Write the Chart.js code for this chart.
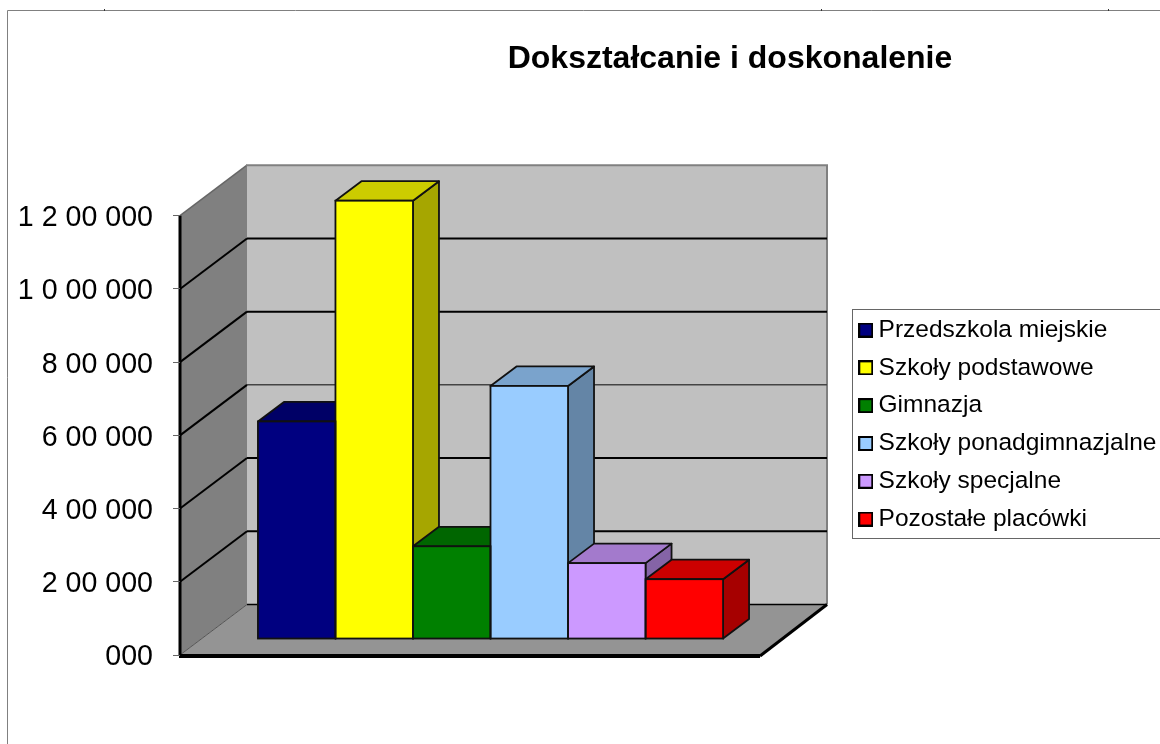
<!DOCTYPE html>
<html lang="pl">
<head>
    <meta charset="UTF-8">
    <title>Dokształcanie i doskonalenie</title>
    <script src="https://cdn.jsdelivr.net/npm/chart.js"></script>
    <style>
        body { margin: 0; background: white; }
        canvas { display: block; }
    </style>
</head>
<body>
<canvas id="wykres" width="1160" height="744"></canvas>

<script>
    const tytul = 'Dokształcanie i doskonalenie';
    const kategorie = ['2010'];
    const serie = ['Przedszkola miejskie', 'Szkoły podstawowe', 'Gimnazja', 'Szkoły ponadgimnazjalne', 'Szkoły specjalne', 'Pozostałe placówki'];
    const wartosci = [593000, 1196000, 252000, 690000, 206000, 162000];
    const wartosciOsi = [0, 200000, 400000, 600000, 800000, 1000000, 1200000];
    const etykietyOsi = ['000', '2 00 000', '4 00 000', '6 00 000', '8 00 000', '1 0 00 000', '1 2 00 000'];
    const kolory = ['#000080', '#ffff00', '#008000', '#99ccff', '#cc99ff', '#ff0000'];
    const koloryGora = ['#000066', '#cccc00', '#006600', '#7aa3cc', '#a37acc', '#cc0000'];
    const koloryBok = ['#000053', '#a6a600', '#005300', '#6485a6', '#8564a6', '#a60000'];

    // glebokosc ukladu 3D w pikselach
    const scianaDx = 67, scianaDy = 50.5;
    const slupekDx = 26, slupekDy = 19.5;
    const scianaPrawa = 827;

    function wielokat(ctx, punkty, wypelnienie, linia, grubosc) {
        ctx.beginPath();
        punkty.forEach((p, i) => i ? ctx.lineTo(p[0], p[1]) : ctx.moveTo(p[0], p[1]));
        ctx.closePath();
        if (wypelnienie) { ctx.fillStyle = wypelnienie; ctx.fill(); }
        if (linia) { ctx.strokeStyle = linia; ctx.lineWidth = grubosc; ctx.stroke(); }
    }

    function odcinek(ctx, x1, y1, x2, y2, kolor, grubosc) {
        ctx.beginPath();
        ctx.moveTo(x1, y1);
        ctx.lineTo(x2, y2);
        ctx.strokeStyle = kolor;
        ctx.lineWidth = grubosc;
        ctx.stroke();
    }

    // probki legendy, bo Chart.js daje zbyt duzy odstep przy zwyklym boxWidth
    function probka(kolor) {
        const c = document.createElement('canvas');
        c.width = 15; c.height = 15;
        const g = c.getContext('2d');
        g.fillStyle = '#000';
        g.fillRect(0, 0, 15, 15);
        g.fillStyle = kolor;
        g.fillRect(2, 2, 11, 11);
        return c;
    }

    const uklad3d = {
        id: 'uklad3d',
        afterLayout(chart) {
            // tytul i legenda nie leza tam, gdzie ustawilby je Chart.js
            const t = chart.titleBlock;
            t.left = 430; t.right = 1030;
            const l = chart.legend;
            l.left = 852; l.right = 1160;
            l.top = 304.5; l.bottom = 744;
        },
        beforeDraw(chart) {
            const ctx = chart.ctx;
            const y = chart.scales.y;
            const lewo = chart.chartArea.left;
            const dol = y.getPixelForValue(0);
            const gora = y.getPixelForValue(1200000);

            ctx.save();
            ctx.fillStyle = 'white';
            ctx.fillRect(0, 0, chart.width, chart.height);

            // ramka wykresu
            odcinek(ctx, 7.5, 10.5, 1160, 10.5, '#808080', 1);
            odcinek(ctx, 7.5, 10.5, 7.5, 744, '#808080', 1);
            [104, 821, 1108].forEach(x => odcinek(ctx, x + 0.5, 9, x + 0.5, 11, '#333', 1));

            const xTyl = lewo + scianaDx;
            const yTylGora = gora - scianaDy;
            const yTylDol = dol - scianaDy;
            const przod = scianaPrawa - scianaDx;

            // sciany i podloga
            wielokat(ctx, [[xTyl, yTylGora], [scianaPrawa, yTylGora], [scianaPrawa, yTylDol], [xTyl, yTylDol]], '#c0c0c0');
            wielokat(ctx, [[lewo, gora], [xTyl, yTylGora], [xTyl, yTylDol], [lewo, dol]], '#808080');
            wielokat(ctx, [[lewo, dol], [xTyl, yTylDol], [scianaPrawa, yTylDol], [przod, dol]], '#949494');

            // krawedzie
            odcinek(ctx, lewo, gora, xTyl, yTylGora, '#666', 1.5);
            odcinek(ctx, xTyl - 1, yTylGora, scianaPrawa + 1, yTylGora, '#808080', 2);
            odcinek(ctx, scianaPrawa, yTylGora, scianaPrawa, yTylDol, '#808080', 2);
            odcinek(ctx, lewo, dol, xTyl, yTylDol, '#555', 1);

            // linie siatki
            wartosciOsi.forEach((w, i) => {
                if (i === 0 || i === wartosciOsi.length - 1) return;
                const py = y.getPixelForValue(w);
                odcinek(ctx, lewo, py, xTyl, py - scianaDy, '#000', 2);
                odcinek(ctx, xTyl, py - scianaDy, scianaPrawa, py - scianaDy, i === 3 ? '#444' : '#000', i === 3 ? 1.5 : 2);
            });
            odcinek(ctx, xTyl, yTylDol, scianaPrawa, yTylDol, '#000', 1.5);

            // gruba krawedz podlogi i os pionowa
            odcinek(ctx, lewo, gora, lewo, dol, '#000', 3);
            odcinek(ctx, lewo - 1, dol + 1, przod, dol + 1, '#000', 4);
            odcinek(ctx, przod, dol + 1, scianaPrawa, yTylDol, '#000', 3);

            // ramka legendy
            ctx.strokeStyle = '#666';
            ctx.lineWidth = 1;
            ctx.strokeRect(852.5, 309.5, 330, 229);
            ctx.restore();
        },
        beforeDatasetsDraw(chart) {
            const ctx = chart.ctx;
            ctx.save();
            ctx.lineJoin = 'round';
            chart.data.datasets.forEach((ds, i) => {
                const s = chart.getDatasetMeta(i).data[0];
                const l = s.x - s.width / 2, p = s.x + s.width / 2;
                wielokat(ctx, [[p, s.y], [p + slupekDx, s.y - slupekDy], [p + slupekDx, s.base - slupekDy], [p, s.base]], koloryBok[i], '#111', 1.8);
                wielokat(ctx, [[l, s.y], [l + slupekDx, s.y - slupekDy], [p + slupekDx, s.y - slupekDy], [p, s.y]], koloryGora[i], '#111', 1.8);
            });
            ctx.restore();
        },
        afterDatasetsDraw(chart) {
            // obrys przodu slupkow, wspolny dla sasiadow
            const ctx = chart.ctx;
            ctx.save();
            ctx.strokeStyle = '#111';
            ctx.lineWidth = 1.8;
            chart.data.datasets.forEach((ds, i) => {
                const s = chart.getDatasetMeta(i).data[0];
                ctx.strokeRect(s.x - s.width / 2, s.y, s.width, s.base - s.y);
            });
            ctx.restore();
        }
    };

    const wykres = new Chart(document.getElementById('wykres'), {
        type: 'bar',
        data: {
            labels: kategorie,
            datasets: serie.map((nazwa, i) => ({
                label: nazwa,
                data: [wartosci[i]],
                yAxisID: 'y2',
                backgroundColor: kolory[i],
                borderWidth: 0,
                categoryPercentage: 0.749,
                barPercentage: 1
            }))
        },
        plugins: [uklad3d],
        options: {
            responsive: false,
            animation: false,
            layout: { padding: { left: 0, right: 359, top: 0, bottom: 89 } },
            plugins: {
                tooltip: { enabled: false },
                title: {
                    display: true,
                    text: tytul,
                    color: '#000',
                    font: { family: 'Liberation Sans', size: 32, weight: 'bold' },
                    padding: { top: 40, bottom: 86.4 }
                },
                legend: {
                    position: 'chartArea',
                    align: 'start',
                    labels: {
                        usePointStyle: true,
                        pointStyleWidth: 1,
                        boxHeight: 15,
                        padding: 13.3,
                        color: '#000',
                        font: { family: 'Liberation Sans', size: 24.5 },
                        generateLabels(chart) {
                            return Chart.defaults.plugins.legend.labels.generateLabels(chart)
                                .map((it, i) => Object.assign(it, { pointStyle: probka(kolory[i]) }));
                        }
                    }
                }
            },
            scales: {
                x: { display: false },
                y: {
                    position: 'left',
                    bounds: 'data',
                    min: 0,
                    max: 1339091,
                    afterFit(s) { s.width = 180; },
                    afterBuildTicks(s) { s.ticks = wartosciOsi.map(w => ({ value: w })); },
                    grid: { drawOnChartArea: false, drawTicks: true, tickLength: 7, tickColor: '#666', tickWidth: 1 },
                    border: { display: false },
                    ticks: {
                        autoSkip: false,
                        padding: 20,
                        labelOffset: 2.5,
                        color: '#000',
                        font: { family: 'Liberation Sans', size: 28.6 },
                        callback: (v, i) => etykietyOsi[i]
                    }
                },
                // slupki stoja na podlodze, kawalek za przednia krawedzia
                y2: { display: false, min: -45000, max: 1294091 }
            }
        }
    });
</script>
</body>
</html>
